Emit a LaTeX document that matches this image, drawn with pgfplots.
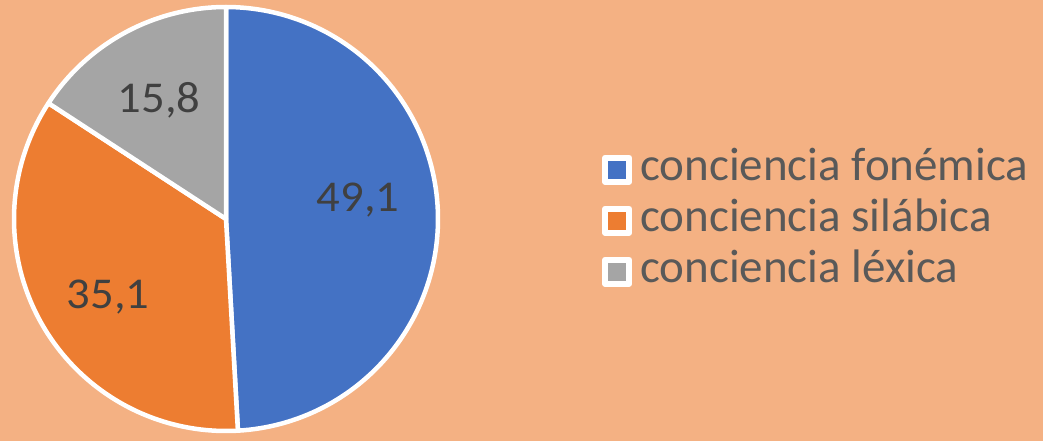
\documentclass[border=0pt]{standalone}
\usepackage{fontspec}
\setmainfont{Carlito}
\usepackage{graphicx}
\usepackage{pgfplots}
\usepackage{pgfplotstable}
\pgfplotsset{compat=1.18}
\definecolor{bg}{HTML}{F4B183}
\definecolor{cblue}{HTML}{4472C4}
\definecolor{corange}{HTML}{ED7D31}
\definecolor{cgray}{HTML}{A5A5A5}
\definecolor{lbl}{HTML}{404040}
\definecolor{leg}{HTML}{595959}
\pgfplotstableread{
label value
fonemica 49.1
silabica 35.1
lexica 15.8
}\piedata
\pgfplotstablegetelem{0}{value}\of\piedata \let\va\pgfplotsretval
\pgfplotstablegetelem{1}{value}\of\piedata \let\vb\pgfplotsretval
\pgfplotstablegetelem{2}{value}\of\piedata \let\vc\pgfplotsretval
\pgfmathsetmacro{\angA}{90}
\pgfmathsetmacro{\angB}{\angA-3.6*\va}
\pgfmathsetmacro{\angC}{\angB-3.6*\vb}
\pgfmathsetmacro{\angD}{\angC-3.6*\vc}
\def\cx{226}
\def\cy{221}
\def\R{212}
\newcommand{\legtxt}[1]{\scalebox{1.0}[1]{#1}}
\newcommand{\dlab}[1]{\scalebox{1.06}[1]{#1}}
\begin{document}
\begin{tikzpicture}
\useasboundingbox (0,0) rectangle (1043pt,440pt);
\fill[bg] (-20pt,-20pt) rectangle (1080pt,460pt);
\begin{axis}[
  at={(0,0)}, anchor=south west,
  x=1pt, y=1pt, scale only axis,
  xmin=0, xmax=1043, ymin=0, ymax=440,
  hide axis, clip=false,
  legend style={at={(axis cs:602,296)}, anchor=north west, draw=none, fill=none,
    font=\fontsize{47}{51}\selectfont\color{leg}, row sep=0pt, inner sep=0pt,
    nodes={inner sep=0pt, text height=36pt, text depth=15pt},
    /tikz/every odd column/.append style={column sep=8pt}},
  legend cell align=left,
  legend image code/.code={\draw[#1, line width=6pt] (0pt,-12pt) rectangle (24pt,12pt);},
]
\addplot[fill=cblue, draw=white, line width=4.5pt, line join=round, domain=\angB:\angA, samples=120, variable=\t]
  ({\cx+\R*cos(t)}, {\cy+\R*sin(t)}) -- (axis cs:\cx,\cy) -- cycle;
\addlegendentry{\legtxt{conciencia fonémica}}
\addplot[fill=corange, draw=white, line width=4.5pt, line join=round, domain=\angC:\angB, samples=100, variable=\t]
  ({\cx+\R*cos(t)}, {\cy+\R*sin(t)}) -- (axis cs:\cx,\cy) -- cycle;
\addlegendentry{\legtxt{conciencia silábica}}
\addplot[fill=cgray, draw=white, line width=4.5pt, line join=round, domain=\angD:\angC, samples=60, variable=\t]
  ({\cx+\R*cos(t)}, {\cy+\R*sin(t)}) -- (axis cs:\cx,\cy) -- cycle;
\addlegendentry{\legtxt{conciencia léxica}}
\node[lbl, font=\fontsize{44}{48}\selectfont] at (axis cs:358,240) {\dlab{49,1}};
\node[lbl, font=\fontsize{44}{48}\selectfont] at (axis cs:108,143) {\dlab{35,1}};
\node[lbl, font=\fontsize{44}{48}\selectfont] at (axis cs:159,340) {\dlab{15,8}};
\end{axis}
\end{tikzpicture}
\end{document}
